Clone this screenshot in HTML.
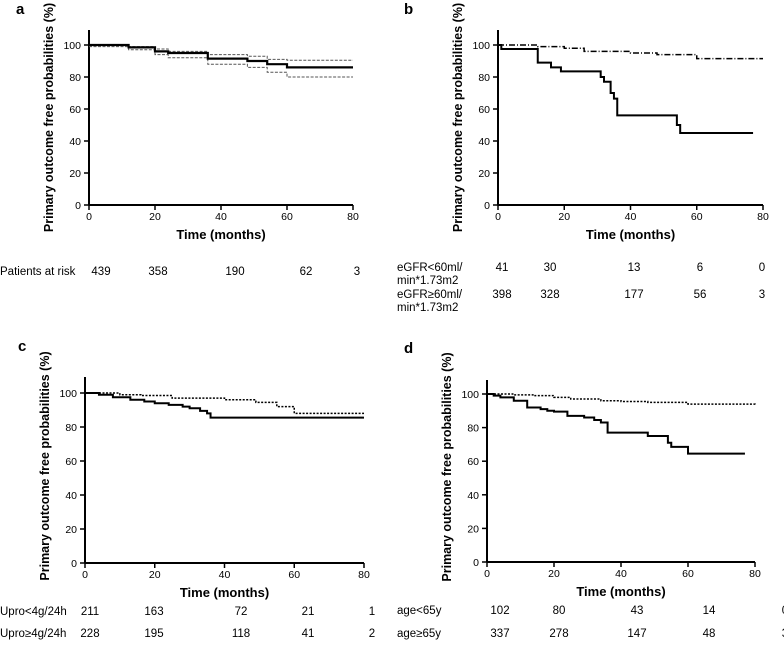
<!DOCTYPE html>
<html><head><meta charset="utf-8"><style>
html,body{margin:0;padding:0;background:#fff;}
svg{display:block;font-family:"Liberation Sans",Arial,sans-serif;}
</style></head><body>
<svg id="fig" width="784" height="646" viewBox="0 0 784 646" xmlns="http://www.w3.org/2000/svg"></svg>
<script>
// ---- data ----
const xTicks = [0,20,40,60,80];
const yTicks = [0,20,40,60,80,100];
const aTimes = [0,12,20,24,36,48,54,60,80];
const aMain  = [100,98.5,96,95,91.5,90,88,86,86];
const aUpper = [100,99,97.5,96,94,93,91,90.5,90.5];
const aLower = [99,97,94,92,88,86,83,80,80];
const bLowTimes = [0,1,12,16,19,31,32,34,35,36,54,55,77];
const bLowVals  = [100,97.5,89,86,83.5,80,77,70,66.5,56,50,45,45];
const bHighTimes = [0,12,20,26,40,48,60,80];
const bHighVals  = [100,99,98,96,95,94,91.5,91.5];
const cLowTimes = [0,10,16,25,40,49,55,60,80];
const cLowVals  = [100,99,98.5,97,96,94.5,92,88,88];
const cHighTimes = [0,4,8,13,17,20,24,28,30,33,35,36,80];
const cHighVals  = [100,99,97.5,96,95,94,93,92,91,89.5,88,85.5,85.5];
const dOldTimes = [0,2,4,8,12,16,18,20,24,29,32,34,36,48,54,55,60,77];
const dOldVals  = [100,99,98,96,92,91,90,89.5,87,86,84.5,83,77,75,71,68.5,64.5,64.5];
const dYoungTimes = [0,8,14,20,25,34,40,48,60,80];
const dYoungVals  = [100,99.5,99,98,97,96,95.5,95,94,93.5];
const aRiskLabels = ["Patients at risk"];
const aRisk = [[439,358,190,62,3]];
const bRisk = [[41,30,13,6,0],[398,328,177,56,3]];
const cRisk = [[211,163,72,21,1],[228,195,118,41,2]];
const dRisk = [[102,80,43,14,0],[337,278,147,48,3]];

const NS="http://www.w3.org/2000/svg";
const svg=document.getElementById('fig');
function el(tag,attrs,parent,text){const e=document.createElementNS(NS,tag);for(const k in attrs)e.setAttribute(k,attrs[k]);if(text!==undefined)e.textContent=text;(parent||svg).appendChild(e);return e;}

function panel(cfg){
  const g=el('g',{});
  
  
  const sx=v=>cfg.x0+(cfg.x1-cfg.x0)*v/80;
  const sy=v=>cfg.y0+(cfg.y1-cfg.y0)*v/100;
  const t=el('text',{x:cfg.lx,y:cfg.ly,'font-size':15,'font-weight':'bold'},g,cfg.letter);
  
  
  const ya=el('line',{x1:cfg.x0,x2:cfg.x0,y1:cfg.top,y2:cfg.y0,stroke:'#000','stroke-width':2},g);
  
  
  const xa=el('line',{x1:cfg.x0,x2:cfg.x1,y1:cfg.y0,y2:cfg.y0,stroke:'#000','stroke-width':2},g);
  
  
  yTicks.forEach(v=>{
    el('line',{x1:cfg.x0-5,x2:cfg.x0,y1:sy(v),y2:sy(v),stroke:'#000','stroke-width':1.5},g);
    const tl=el('text',{x:cfg.x0-8,y:sy(v)+4,'font-size':10.5,'text-anchor':'end'},g,String(v));
    
    
  });
  xTicks.forEach(v=>{
    el('line',{x1:sx(v),x2:sx(v),y1:cfg.y0,y2:cfg.y0+5,stroke:'#000','stroke-width':1.5},g);
    const tl=el('text',{x:sx(v),y:cfg.y0+15,'font-size':10.5,'text-anchor':'middle'},g,String(v));
    
    
  });
  const xt=el('text',{x:(cfg.x0+cfg.x1)/2,y:cfg.y0+34,'font-size':13,'font-weight':'bold','text-anchor':'middle'},g,'Time (months)');
  
  
  const ymid=(cfg.top+cfg.y0)/2+cfg.yshift;
  const yt=el('text',{x:0,y:0,'font-size':12.5,'font-weight':'bold','text-anchor':'middle',transform:`translate(${cfg.x0-36},${ymid}) rotate(-90)`},g,'Primary outcome free probabilities (%)');
  
  
  cfg.series.forEach(s=>{
    let d=`M${sx(s.t[0])},${sy(s.v[0])}`;
    for(let i=1;i<s.t.length;i++){d+=` H${sx(s.t[i])} V${sy(s.v[i])}`;}
    const p=el('path',{d:d,fill:'none',stroke:s.color||'#000','stroke-width':s.w,'stroke-dasharray':s.dash||'none'},g);
    
    
  });
  cfg.risk.forEach((row,ri)=>{
    const lab=cfg.riskLabels[ri];
    const lt=el('text',{x:cfg.rlx,y:cfg.ry[ri],'font-size':11.5},g);
    
    
    lab.split('\n').forEach((ln,k)=>{el('tspan',{x:cfg.rlx,dy:k?13:0},lt,ln);});
    row.forEach((n,i)=>{
      const nt=el('text',{x:cfg.rx[i],y:cfg.ry[ri],'font-size':11.5,'text-anchor':'middle'},g,String(n));
      
      
    });
  });
}

panel({letter:'a',lx:16,ly:14,x0:89,x1:353,y0:205,y1:45,top:30,yshift:0,
  series:[{t:aTimes,v:aUpper,w:1,dash:'3,1.5',name:'ci-upper',color:'#555'},
          {t:aTimes,v:aLower,w:1,dash:'3,1.5',name:'ci-lower',color:'#555'},
          {t:aTimes,v:aMain,w:2.2,name:'survival-curve'}],
  risk:aRisk,riskLabels:aRiskLabels,rlx:0,ry:[275],rx:[101,158,235,306,357]});
panel({letter:'b',lx:404,ly:14,x0:498,x1:763,y0:205,y1:45,top:30,yshift:0,
  series:[{t:bHighTimes,v:bHighVals,w:1.5,dash:'6,2,1,2',name:'egfr-high-curve'},
          {t:bLowTimes,v:bLowVals,w:2,name:'egfr-low-curve'}],
  risk:bRisk,riskLabels:['eGFR<60ml/\nmin*1.73m2','eGFR≥60ml/\nmin*1.73m2'],rlx:397,ry:[271,298],rx:[502,550,634,700,762]});
panel({letter:'c',lx:18,ly:351,x0:85,x1:364,y0:563,y1:393,top:377,yshift:-4,
  series:[{t:cLowTimes,v:cLowVals,w:1.5,dash:'2,1.5',name:'upro-low-curve'},
          {t:cHighTimes,v:cHighVals,w:2,name:'upro-high-curve'}],
  risk:cRisk,riskLabels:['Upro<4g/24h','Upro≥4g/24h'],rlx:0,ry:[615,637],rx:[90,154,241,308,372]});
panel({letter:'d',lx:404,ly:353,x0:487,x1:755,y0:562,y1:394,top:380,yshift:-4,
  series:[{t:dYoungTimes,v:dYoungVals,w:1.5,dash:'2,1.5',name:'age-young-curve'},
          {t:dOldTimes,v:dOldVals,w:2,name:'age-old-curve'}],
  risk:dRisk,riskLabels:['age<65y','age≥65y'],rlx:397,ry:[614,637],rx:[500,559,637,709,785]});
</script>
</body></html>
